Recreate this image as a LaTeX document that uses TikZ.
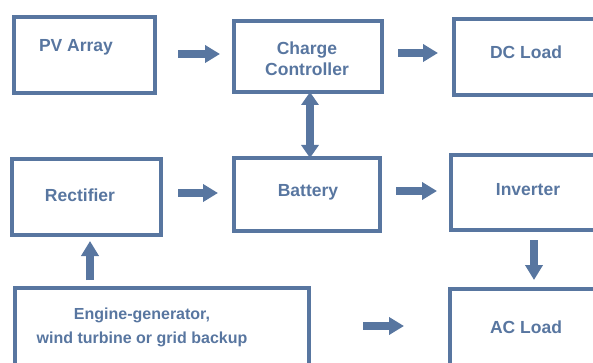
\documentclass[tikz,border=0pt]{standalone}
\usepackage{fontspec}
\setmainfont{Liberation Sans}
\usetikzlibrary{arrows.meta}
\definecolor{steel}{RGB}{88,118,160}
\tikzset{
  box/.style={draw=steel, line width=4pt, rectangle, outer sep=0pt, inner sep=0pt},
  lbl/.style={text=steel, font=\bfseries\fontsize{17.5}{21}\selectfont, inner sep=0pt, align=center},
  small/.style={text=steel, font=\bfseries\fontsize{16}{24}\selectfont, inner sep=0pt, align=center},
  flow/.style={draw=steel, line width=8pt, -{Triangle[width=17pt,length=15pt]}},
  both/.style={draw=steel, line width=8pt, {Triangle[width=17pt,length=13pt]}-{Triangle[width=17pt,length=13pt]}},
}
\begin{document}
\begin{tikzpicture}[x=1pt,y=-1pt]
\useasboundingbox (0,0) rectangle (593,363);
\clip (0,0) rectangle (593,363);

% boxes
\node[box, minimum width=141pt, minimum height=76pt] (pv)   at (84.5,55) {};
\node[box, minimum width=148pt, minimum height=71pt] (cc)   at (308,56.5) {};
\node[box, minimum width=160pt, minimum height=76pt] (dc)   at (534,57) {};
\node[box, minimum width=149pt, minimum height=76pt] (rect) at (86.5,197) {};
\node[box, minimum width=146pt, minimum height=73pt] (batt) at (307,194.5) {};
\node[box, minimum width=160pt, minimum height=75pt] (inv)  at (531,192.5) {};
\node[box, minimum width=294pt, minimum height=92pt] (eng)  at (162,334) {};
\node[box, minimum width=160pt, minimum height=92pt] (ac)   at (530,335) {};

% labels
\node[lbl] (pvt)   at (76,47) {PV Array};
\node[lbl] (cct)   at (307,59) {Charge\\Controller};
\node[lbl] (dct)   at (526,52) {DC Load};
\node[lbl] (rectt) at (80,195) {Rectifier};
\node[lbl] (battt) at (308,192) {Battery};
\node[lbl] (invt)  at (528,190) {Inverter};
\node[small] (engt) at (142,327) {Engine-generator,\\wind turbine or grid backup};
\node[lbl] (act)   at (526,327) {AC Load};

% connectors
\draw[flow, shorten <=23pt, shorten >=14pt] (pv.east |- 0,54) -- (cc.west |- 0,54);
\draw[flow, shorten <=16pt, shorten >=16pt] (cc.east |- 0,53) -- (dc.west |- 0,53);
\draw[both] (cc.south -| 310,0) -- (batt.north -| 310,0);
\draw[flow, shorten <=17pt, shorten >=16pt] (rect.east |- 0,193) -- (batt.west |- 0,193);
\draw[flow, shorten <=16pt, shorten >=14pt] (batt.east |- 0,191) -- (inv.west |- 0,191);
\draw[flow, shorten <=8pt, shorten >=6pt] (eng.north -| 90,0) -- (rect.south -| 90,0);
\draw[flow, shorten <=10pt, shorten >=9pt] (inv.south -| 534,0) -- (ac.north -| 534,0);
\draw[flow, shorten <=54pt, shorten >=46pt] (eng.east |- 0,326) -- (ac.west |- 0,326);
\end{tikzpicture}
\end{document}
